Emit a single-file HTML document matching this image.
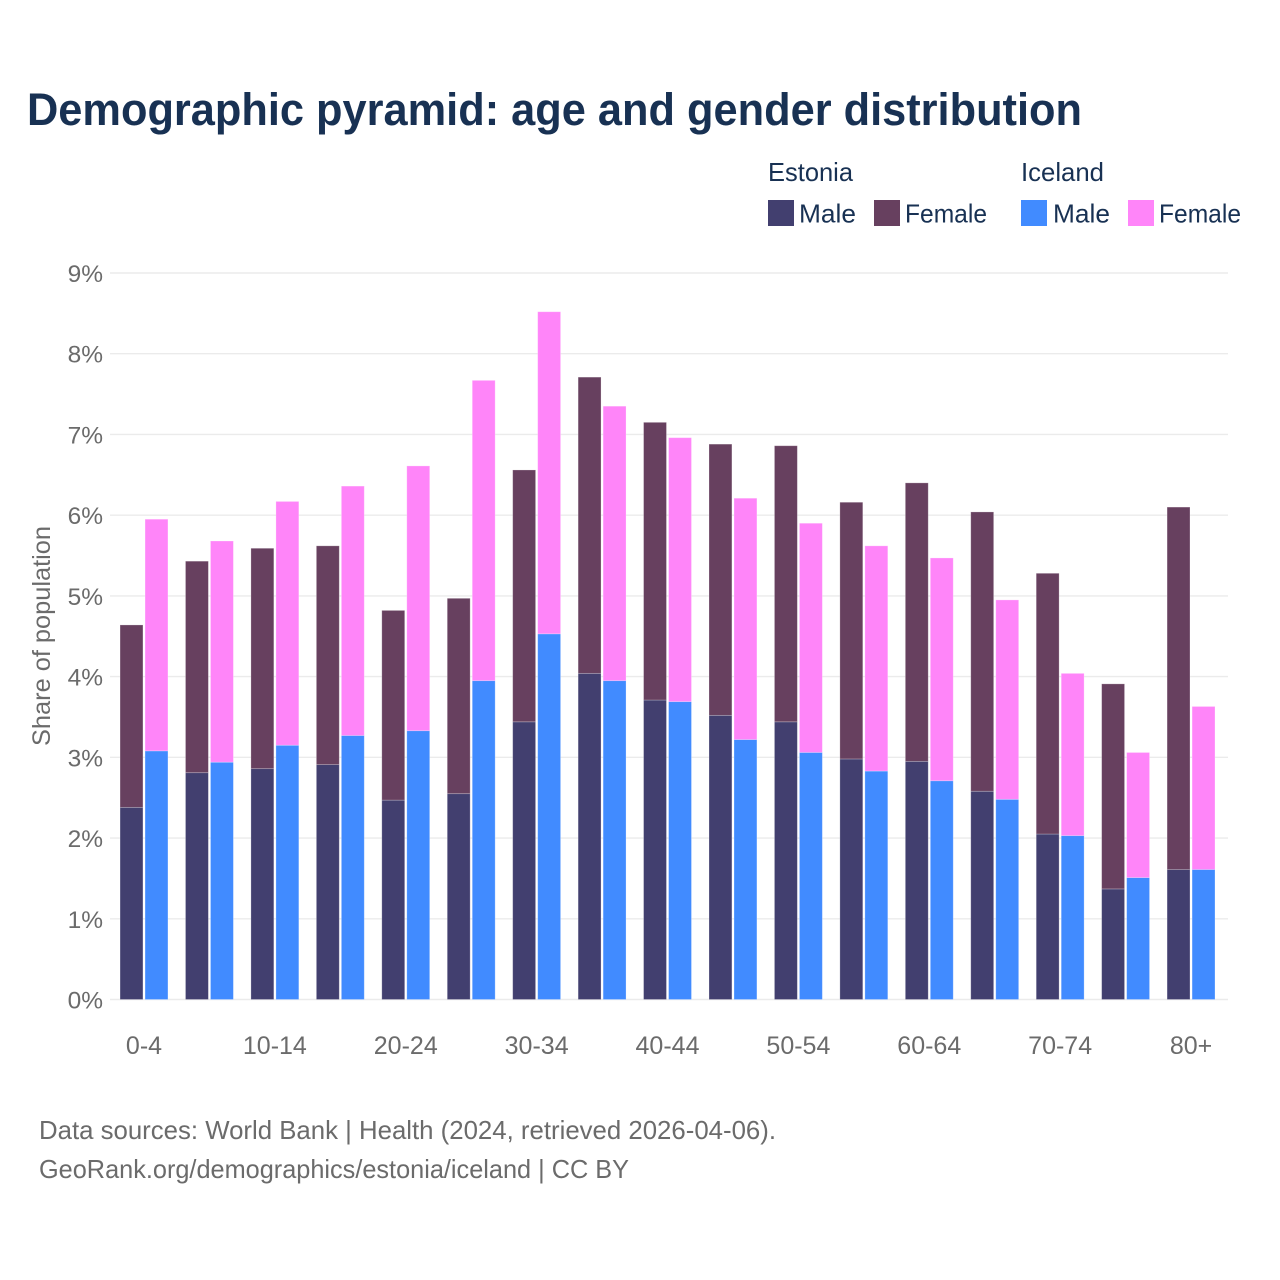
<!DOCTYPE html>
<html lang="en">
<head>
<meta charset="utf-8">
<title>Demographic pyramid: age and gender distribution</title>
<style>
  html, body { margin: 0; padding: 0; background: #ffffff; }
  svg { display: block; font-family: "Liberation Sans", sans-serif; }
</style>
</head>
<body>
<svg id="chart" xmlns="http://www.w3.org/2000/svg" width="1280" height="1280" viewBox="0 0 1280 1280">
  <rect x="0" y="0" width="1280" height="1280" fill="#ffffff"/>
  <text x="27" y="125" font-size="45" font-weight="700" fill="#183153" textLength="1055" lengthAdjust="spacingAndGlyphs">Demographic pyramid: age and gender distribution</text>

  <g fill="#183153" font-size="26">
    <text x="768" y="181" textLength="85" lengthAdjust="spacingAndGlyphs">Estonia</text>
    <text x="1021" y="181" textLength="83" lengthAdjust="spacingAndGlyphs">Iceland</text>
    <rect x="768" y="200" width="26" height="26" fill="#423f6f"/>
    <text x="799" y="222.5" textLength="57" lengthAdjust="spacingAndGlyphs">Male</text>
    <rect x="874" y="200" width="26" height="26" fill="#67405f"/>
    <text x="905" y="222.5" textLength="82" lengthAdjust="spacingAndGlyphs">Female</text>
    <rect x="1021" y="200" width="26" height="26" fill="#418bff"/>
    <text x="1053" y="222.5" textLength="57" lengthAdjust="spacingAndGlyphs">Male</text>
    <rect x="1128" y="200" width="26" height="26" fill="#ff85f9"/>
    <text x="1159" y="222.5" textLength="82" lengthAdjust="spacingAndGlyphs">Female</text>
  </g>

  <g id="grid"></g>
  <g id="bars"></g>
  <g id="y-ticks"></g>
  <g id="x-ticks"></g>

  <text transform="translate(50 636) rotate(-90)" text-anchor="middle" font-size="25" fill="#6b6b6b" textLength="220" lengthAdjust="spacingAndGlyphs">Share of population</text>

  <text x="39" y="1139" font-size="26" fill="#6b6b6b" textLength="737" lengthAdjust="spacingAndGlyphs">Data sources: World Bank | Health (2024, retrieved 2026-04-06).</text>
  <text x="39" y="1178" font-size="26" fill="#6b6b6b" textLength="590" lengthAdjust="spacingAndGlyphs">GeoRank.org/demographics/estonia/iceland | CC BY</text>
</svg>

<script>
const categories = ['0-4','5-9','10-14','15-19','20-24','25-29','30-34','35-39','40-44','45-49','50-54','55-59','60-64','65-69','70-74','75-79','80+'];
const estoniaMale = [2.38,2.81,2.86,2.91,2.47,2.55,3.44,4.04,3.71,3.52,3.44,2.98,2.95,2.58,2.05,1.37,1.61];
const estoniaFemale = [2.26,2.62,2.73,2.71,2.35,2.42,3.12,3.67,3.44,3.36,3.42,3.18,3.45,3.46,3.23,2.54,4.49];
const icelandMale = [3.08,2.94,3.15,3.27,3.33,3.95,4.53,3.95,3.69,3.22,3.06,2.83,2.71,2.48,2.03,1.51,1.61];
const icelandFemale = [2.87,2.74,3.02,3.09,3.28,3.72,3.99,3.40,3.27,2.99,2.84,2.79,2.76,2.47,2.01,1.55,2.02];
const yTicks = [0,1,2,3,4,5,6,7,8,9];
const xTickLabels = ['0-4','10-14','20-24','30-34','40-44','50-54','60-64','70-74','80+'];

const NS = 'http://www.w3.org/2000/svg';
const plot = { left: 110, right: 1228, top: 273, bottom: 999.5, firstCenter: 144, step: 65.44, yMax: 9 };
const barWidth = 22.9;
const barOffset = 12.5;

function yScale(v) {
  return plot.bottom - (v / plot.yMax) * (plot.bottom - plot.top);
}
function xScale(i) {
  return plot.firstCenter + i * plot.step;
}
function make(tag, attrs, parent) {
  const el = document.createElementNS(NS, tag);
  for (const k in attrs) el.setAttribute(k, attrs[k]);
  parent.appendChild(el);
  return el;
}

const gridG = document.getElementById('grid');
const yG = document.getElementById('y-ticks');
yTicks.forEach(function (t) {
  const line = make('line', { x1: plot.left, x2: plot.right, y1: yScale(t), y2: yScale(t), stroke: '#ebebeb', 'stroke-width': 1.4 }, gridG);
  
  
  const label = make('text', { x: 103, y: yScale(t) + 9, 'text-anchor': 'end', 'font-size': 24.5, fill: '#6b6b6b' }, yG);
  label.textContent = t + '%';
  
  
});

const barsG = document.getElementById('bars');
function drawBar(i, offset, bottomVal, val, fill) {
  const top = yScale(bottomVal + val);
  const bottom = yScale(bottomVal);
  const r = make('rect', {
    x: xScale(i) + offset - barWidth / 2,
    y: top,
    width: barWidth,
    height: bottom - top,
    fill: fill,
    stroke: '#ffffff',
    'stroke-opacity': 0.3,
    'stroke-width': 0.8
  }, barsG);
  return r;
}
categories.forEach(function (cat, i) {
  const a = drawBar(i, -barOffset, 0, estoniaMale[i], '#423f6f');
  
  
  const b = drawBar(i, -barOffset, estoniaMale[i], estoniaFemale[i], '#67405f');
  
  
  const c = drawBar(i, barOffset, 0, icelandMale[i], '#418bff');
  
  
  const d = drawBar(i, barOffset, icelandMale[i], icelandFemale[i], '#ff85f9');
  
  
});

const xG = document.getElementById('x-ticks');
xTickLabels.forEach(function (lab) {
  const i = categories.indexOf(lab);
  const label = make('text', { x: xScale(i), y: 1054, 'text-anchor': 'middle', 'font-size': 25, fill: '#6b6b6b' }, xG);
  label.textContent = lab;
  
  
});
</script>
</body>
</html>
